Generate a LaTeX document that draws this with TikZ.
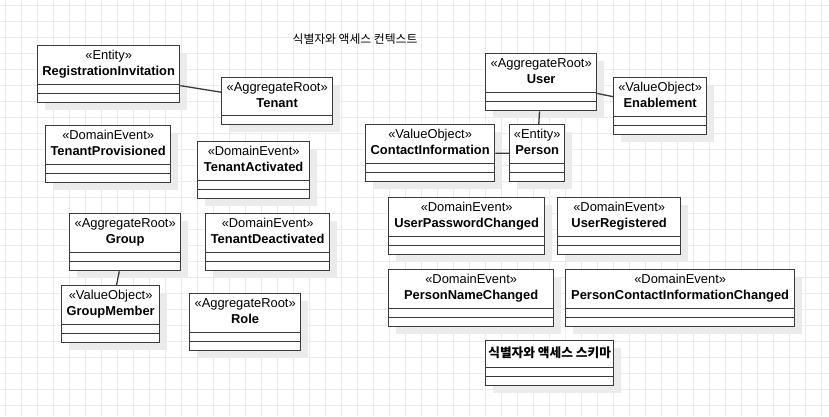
\documentclass[tikz,border=0pt]{standalone}
\usepackage{fontspec}
\setmainfont{Liberation Sans}
\newfontfamily\krfont{Noto Sans CJK KR}
\usetikzlibrary{positioning,shadows}

\definecolor{gridc}{HTML}{EBEBEB}
\definecolor{shadowc}{HTML}{EBEBEB}
\definecolor{linec}{HTML}{3A3A3A}

\begin{document}
\begin{tikzpicture}[x=1pt,y=-1pt,
    cls/.style={draw=linec, line width=1.3pt, fill=white, anchor=north west,
      inner sep=0pt, minimum width=#1pt, minimum height=57pt,
      drop shadow={shadow xshift=7pt, shadow yshift=-7pt, fill=shadowc, opacity=1}},
    head/.style={anchor=north, align=center, inner sep=0pt,
      font=\fontsize{12.9}{16}\selectfont},
    comp/.style={draw=linec, line width=1.3pt},
    assoc/.style={draw=linec, line width=1.3pt}]
    \useasboundingbox (0,0) rectangle (829,416);

    % background grid
    \foreach \x in {5.3,21.3,...,821.3}
      \draw[gridc, line width=0.8pt] (\x,0) -- (\x,416);
    \foreach \y in {5.3,21.3,...,405.3}
      \draw[gridc, line width=0.8pt] (0,\y) -- (829,\y);

    \node[font=\krfont\fontsize{11.8}{14}\selectfont] (title) at (355,39) {식별자와 액세스 컨텍스트};

    % tenant side
    \node[cls=142]                    (ri)       at (37,45)   {};
    \node[head, below=5.4pt of ri.north]       (ri-t)       {«Entity»\\\textbf{RegistrationInvitation}};
    \node[cls=111, minimum height=47pt] (tenant) at (221,77)  {};
    \node[head, below=5.4pt of tenant.north]   (tenant-t)   {«AggregateRoot»\\\textbf{Tenant}};
    \node[cls=125]                    (tprov)    at (45,125)  {};
    \node[head, below=5.4pt of tprov.north]    (tprov-t)    {«DomainEvent»\\\textbf{TenantProvisioned}};
    \node[cls=112]                    (tact)     at (197,141) {};
    \node[head, below=5.4pt of tact.north]     (tact-t)     {«DomainEvent»\\\textbf{TenantActivated}};
    \node[cls=111]                    (group)    at (69,213)  {};
    \node[head, below=5.4pt of group.north]    (group-t)    {«AggregateRoot»\\\textbf{Group}};
    \node[cls=124]                    (tdeact)   at (205,213) {};
    \node[head, below=5.4pt of tdeact.north]   (tdeact-t)   {«DomainEvent»\\\textbf{TenantDeactivated}};
    \node[cls=98]                     (gmember)  at (61,285)  {};
    \node[head, below=5.4pt of gmember.north]  (gmember-t)  {«ValueObject»\\\textbf{GroupMember}};
    \node[cls=111]                    (role)     at (189,293) {};
    \node[head, below=5.4pt of role.north]     (role-t)     {«AggregateRoot»\\\textbf{Role}};

    % user side
    \node[cls=111]                    (user)     at (485,53)  {};
    \node[head, below=5.4pt of user.north]     (user-t)     {«AggregateRoot»\\\textbf{User}};
    \node[cls=93]                     (enable)   at (613,77)  {};
    \node[head, below=5.4pt of enable.north]   (enable-t)   {«ValueObject»\\\textbf{Enablement}};
    \node[cls=129]                    (contact)  at (365,124) {};
    \node[head, below=5.4pt of contact.north]  (contact-t)  {«ValueObject»\\\textbf{ContactInformation}};
    \node[cls=55]                     (person)   at (509,124) {};
    \node[head, below=5.4pt of person.north]   (person-t)   {«Entity»\\\textbf{Person}};
    \node[cls=156]                    (upwd)     at (388,197) {};
    \node[head, below=5.4pt of upwd.north]     (upwd-t)     {«DomainEvent»\\\textbf{UserPasswordChanged}};
    \node[cls=123]                    (ureg)     at (557,197) {};
    \node[head, below=5.4pt of ureg.north]     (ureg-t)     {«DomainEvent»\\\textbf{UserRegistered}};
    \node[cls=165]                    (pname)    at (388,269) {};
    \node[head, below=5.4pt of pname.north]    (pname-t)    {«DomainEvent»\\\textbf{PersonNameChanged}};
    \node[cls=229]                    (pcontact) at (565,269) {};
    \node[head, below=5.4pt of pcontact.north] (pcontact-t) {«DomainEvent»\\\textbf{PersonContactInformationChanged}};
    \node[cls=128, minimum height=45pt] (schema) at (485,340) {};
    \node[inner sep=0pt, font=\krfont\bfseries\fontsize{12.7}{15}\selectfont]
      (schema-t) at ([yshift=-13pt]schema.north) {식별자와 액세스 스키마};

    % compartments
    \foreach \n in {ri,tprov,tact,group,tdeact,gmember,role,user,enable,contact,person,upwd,ureg,pname,pcontact,schema}
      \draw[comp] ([yshift=9.5pt]\n.south west) -- ([yshift=9.5pt]\n.south east)
                  ([yshift=19pt]\n.south west) -- ([yshift=19pt]\n.south east);
    \draw[comp] ([yshift=9.5pt]tenant.south west) -- ([yshift=9.5pt]tenant.south east);

    % associations
    \draw[assoc] (ri) -- (tenant)
                 (group) -- (gmember)
                 (user) -- (enable)
                 (user) -- (person)
                 (contact) -- (person);
\end{tikzpicture}
\end{document}
